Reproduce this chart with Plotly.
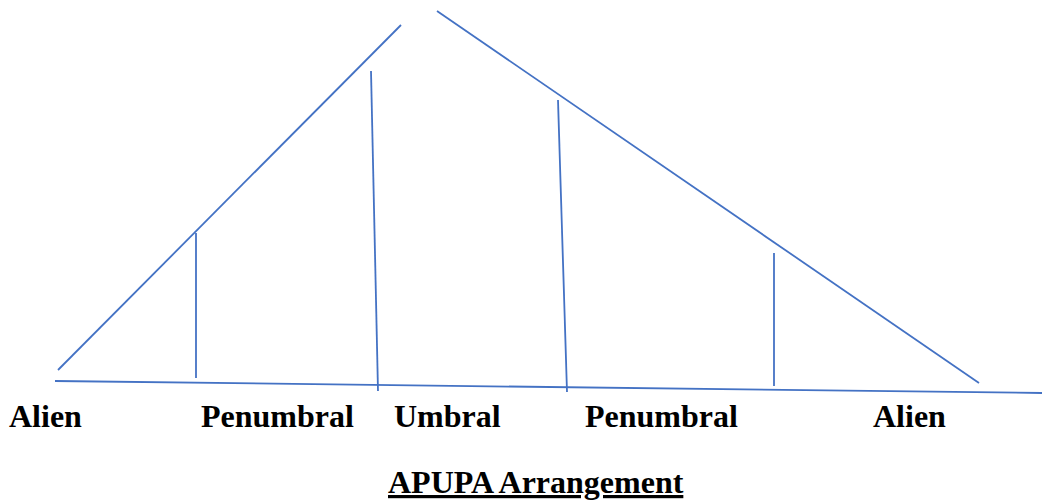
import plotly.graph_objects as go

# Diagram segments (in picture coordinates, y grows downward)
left_slope_x = [58, 401]
left_slope_y = [370, 25]
right_slope_x = [437, 979]
right_slope_y = [11, 383]
base_x = [55, 1042]
base_y = [381, 393]
div1_x = [196, 196]
div1_y = [233, 378]
div2_x = [371, 378]
div2_y = [71, 391]
div3_x = [558, 567]
div3_y = [100, 392]
div4_x = [774, 774]
div4_y = [253, 386]

segments = [
    (left_slope_x, left_slope_y),
    (right_slope_x, right_slope_y),
    (base_x, base_y),
    (div1_x, div1_y),
    (div2_x, div2_y),
    (div3_x, div3_y),
    (div4_x, div4_y),
]

zone_labels = ["Alien", "Penumbral", "Umbral", "Penumbral", "Alien"]
zone_label_x = [8, 200, 393, 584, 872]
zone_label_y = 416
title_text = "APUPA Arrangement"

fig = go.Figure()
for xs, ys in segments:
    fig.add_trace(go.Scatter(x=xs, y=ys, mode="lines",
                             line=dict(color="#4472C4", width=1.8),
                             hoverinfo="skip", showlegend=False))

font = dict(family="Liberation Serif, Times New Roman, serif", size=32, color="black")
for lab, lx in zip(zone_labels, zone_label_x):
    fig.add_annotation(x=lx, y=zone_label_y, text=f"<b>{lab}</b>", showarrow=False,
                       xanchor="left", yanchor="middle", font=font, borderpad=0)

fig.add_annotation(x=536, y=482, text=f"<b><u>{title_text}</u></b>", showarrow=False,
                   xanchor="center", yanchor="middle", font=font, borderpad=0)

fig.update_layout(
    width=1044, height=503,
    margin=dict(l=0, r=0, t=0, b=0),
    paper_bgcolor="white", plot_bgcolor="white",
    xaxis=dict(range=[0, 1044], visible=False, fixedrange=True),
    yaxis=dict(range=[503, 0], visible=False, fixedrange=True),
)

fig.write_html(
    "out.html",
    config={"displayModeBar": False},
    post_script="document.body.style.margin='0';document.body.style.overflow='hidden';",
)
